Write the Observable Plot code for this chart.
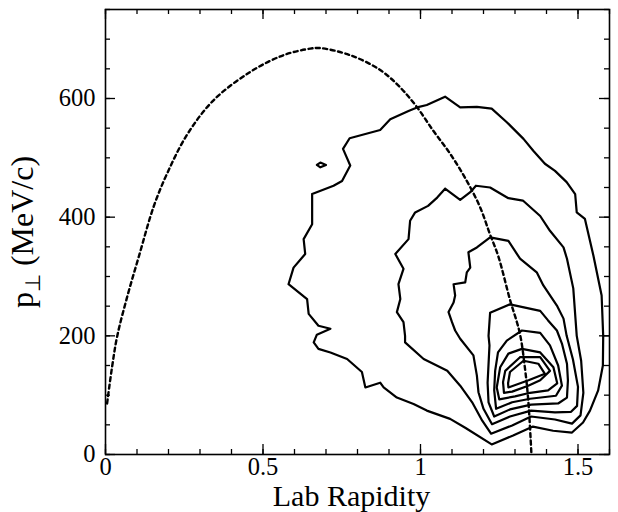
<!DOCTYPE html>
<html><head><meta charset="utf-8">
<script src="https://cdn.jsdelivr.net/npm/d3@7"></script>
<script src="https://cdn.jsdelivr.net/npm/@observablehq/plot@0.6"></script>
<style>html,body{margin:0;padding:0;background:#fff;}</style>
</head><body><div id="chart"></div>
<script>
// ---- data (x = lab rapidity, y = p_perp in MeV/c) ----
const xTitle = "Lab Rapidity";
const yTitle = "p⊥ (MeV/c)";
const xMajor = [0, 0.5, 1, 1.5];
const xMinor = [0, 0.1, 0.2, 0.3, 0.4, 0.5, 0.6, 0.7, 0.8, 0.9, 1, 1.1, 1.2, 1.3, 1.4, 1.5, 1.6];
const yMajor = [0, 200, 400, 600];
const yMinor = [0, 50, 100, 150, 200, 250, 300, 350, 400, 450, 500, 550, 600, 650, 700, 750];

const contour1 = [[0.656,439],[0.724,453],[0.751,461],[0.777,487],[0.754,515],[0.775,533],[0.872,547],[0.904,565],[0.962,579],[0.989,585],[1.020,589],[1.078,603],[1.126,585],[1.179,586],[1.226,583],[1.274,560],[1.327,532],[1.358,512],[1.395,490],[1.427,478],[1.464,459],[1.491,439],[1.496,408],[1.522,397],[1.549,335],[1.575,268],[1.580,200],[1.579,150],[1.564,108],[1.538,74],[1.516,54],[1.481,37],[1.421,40],[1.357,47],[1.294,32],[1.226,17],[1.142,45],[1.094,60],[1.020,74],[0.978,85],[0.925,96],[0.883,113],[0.872,121],[0.825,113],[0.814,139],[0.767,161],[0.714,172],[0.676,178],[0.661,189],[0.671,202],[0.714,212],[0.676,217],[0.645,237],[0.640,262],[0.581,287],[0.597,315],[0.634,338],[0.629,363],[0.656,388]];
const island = [[0.671,488],[0.682,492],[0.700,488],[0.682,484]];
const contour2 = [[1.078,448],[1.126,429],[1.158,442],[1.176,453],[1.221,450],[1.279,432],[1.325,428],[1.380,402],[1.411,377],[1.454,349],[1.465,330],[1.485,280],[1.496,200],[1.510,158],[1.517,104],[1.508,66],[1.481,52],[1.427,59],[1.351,64],[1.291,49],[1.224,35],[1.196,57],[1.164,88],[1.126,116],[1.085,141],[1.010,161],[0.951,189],[0.951,200],[0.946,223],[0.925,240],[0.936,262],[0.930,287],[0.946,313],[0.920,338],[0.962,363],[0.967,394],[0.983,408],[1.024,419],[1.053,433]];
const contour3 = [[1.221,366],[1.279,360],[1.316,330],[1.369,307],[1.390,285],[1.433,251],[1.454,229],[1.464,200],[1.484,160],[1.500,114],[1.497,82],[1.478,72],[1.427,71],[1.351,74],[1.284,64],[1.227,51],[1.200,77],[1.184,105],[1.179,133],[1.168,167],[1.126,195],[1.110,209],[1.100,223],[1.089,240],[1.105,256],[1.110,268],[1.105,287],[1.142,290],[1.147,307],[1.158,315],[1.152,341],[1.179,349]];
const contour4 = [[1.284,253],[1.380,242],[1.405,226],[1.433,209],[1.449,187],[1.465,153],[1.468,125],[1.465,96],[1.437,86],[1.351,84],[1.284,76],[1.234,64],[1.216,88],[1.213,121],[1.219,184],[1.216,200],[1.221,239]];
const contour5 = [[1.274,192],[1.322,209],[1.380,205],[1.411,184],[1.437,150],[1.449,116],[1.430,99],[1.348,94],[1.291,88],[1.240,77],[1.234,108],[1.237,141],[1.246,172]];
const contour6 = [[1.322,178],[1.380,172],[1.422,147],[1.434,120],[1.405,108],[1.348,104],[1.300,98],[1.250,93],[1.242,113],[1.253,147],[1.279,170]];
const contour7 = [[1.316,164],[1.380,164],[1.411,141],[1.380,125],[1.342,116],[1.291,106],[1.265,104],[1.262,122],[1.269,141]];
const contour8 = [[1.327,158],[1.374,153],[1.395,136],[1.343,125],[1.279,113],[1.278,120],[1.284,139]];

const dotted = [[0.005,86],[0.021,148],[0.037,199],[0.069,266],[0.106,334],[0.153,418],[0.196,474],[0.259,539],[0.343,597],[0.460,645],[0.565,673],[0.650,684],[0.681,685],[0.777,673],[0.872,648],[0.935,619],[0.988,586],[1.040,546],[1.094,507],[1.146,462],[1.189,417],[1.220,372],[1.247,334],[1.284,261],[1.315,205],[1.331,148],[1.342,92],[1.352,2]];

// ---- build tables ----
const contours = [["c1",contour1],["island",island],["c2",contour2],["c3",contour3],["c4",contour4],["c5",contour5],["c6",contour6],["c7",contour7],["c8",contour8]];
const rows = [];
contours.forEach(([name, pts]) => [...pts, pts[0]].forEach(([x, y]) => rows.push({level: name, x, y})));
const curveRows = dotted.map(([x, y]) => ({x, y}));

const W = 618, H = 512, mL = 105, mR = 9, mT = 9, mB = 58;
const innerW = W - mL - mR, innerH = H - mT - mB;
const tickStyle = {stroke: "black", strokeWidth: 1.3};

const chart = Plot.plot({
  width: W, height: H,
  marginLeft: mL, marginRight: mR, marginTop: mT, marginBottom: mB,
  style: {fontFamily: "'Liberation Serif','Times New Roman',serif", fontSize: "25px", color: "black", background: "white"},
  x: {domain: [0, 1.6], label: null},
  y: {domain: [0, 750], label: null},
  marks: [
    Plot.line(rows, {x: "x", y: "y", z: "level", stroke: "black", strokeWidth: 2.2, curve: "linear", strokeLinejoin: "round"}),
    Plot.line(curveRows, {x: "x", y: "y", stroke: "black", strokeWidth: 2.4, strokeDasharray: "4,3.5", curve: "catmull-rom"}),
    // inward ticks on all four sides
    Plot.tickX(xMinor, {x: d => d, insetTop: innerH - 5, ...tickStyle}),
    Plot.tickX(xMajor, {x: d => d, insetTop: innerH - 10, ...tickStyle}),
    Plot.tickX(xMinor, {x: d => d, insetBottom: innerH - 5, ...tickStyle}),
    Plot.tickX(xMajor, {x: d => d, insetBottom: innerH - 10, ...tickStyle}),
    Plot.tickY(yMinor, {y: d => d, insetRight: innerW - 5, ...tickStyle}),
    Plot.tickY(yMajor, {y: d => d, insetRight: innerW - 10, ...tickStyle}),
    Plot.tickY(yMinor, {y: d => d, insetLeft: innerW - 5, ...tickStyle}),
    Plot.tickY(yMajor, {y: d => d, insetLeft: innerW - 10, ...tickStyle}),
    Plot.frame({stroke: "black", strokeWidth: 1.6}),
    Plot.axisX(xMajor, {tickSize: 0, tickPadding: 3, fontSize: 24.5, tickFormat: d => String(d), label: null}),
    Plot.axisY(yMajor, {tickSize: 0, tickPadding: 10, fontSize: 24.5, tickFormat: d => String(d), label: null}),
    Plot.text([xTitle], {text: d => d, frameAnchor: "bottom", dy: 51, dx: -6, lineAnchor: "bottom", textAnchor: "middle", fontSize: 30}),
    Plot.text([yTitle], {text: d => d, frameAnchor: "left", rotate: -90, dx: -73, lineAnchor: "bottom", textAnchor: "middle", fontSize: 32})
  ]
});
document.getElementById("chart").appendChild(chart);

// subscript for the perpendicular sign in the y title
const ns = "http://www.w3.org/2000/svg";
const yt = [...chart.querySelectorAll("text")].find(e => e.textContent === yTitle);
if (yt) {
  yt.textContent = "";
  const parts = [["p", null, null], ["⊥", "21", "7"], [" (MeV/c)", null, "-7"]];
  for (const [s, fs, dy] of parts) {
    const t = document.createElementNS(ns, "tspan");
    t.textContent = s;
    if (fs) t.setAttribute("font-size", fs);
    if (dy) t.setAttribute("dy", dy);
    yt.appendChild(t);
  }
}
</script>
</body></html>
